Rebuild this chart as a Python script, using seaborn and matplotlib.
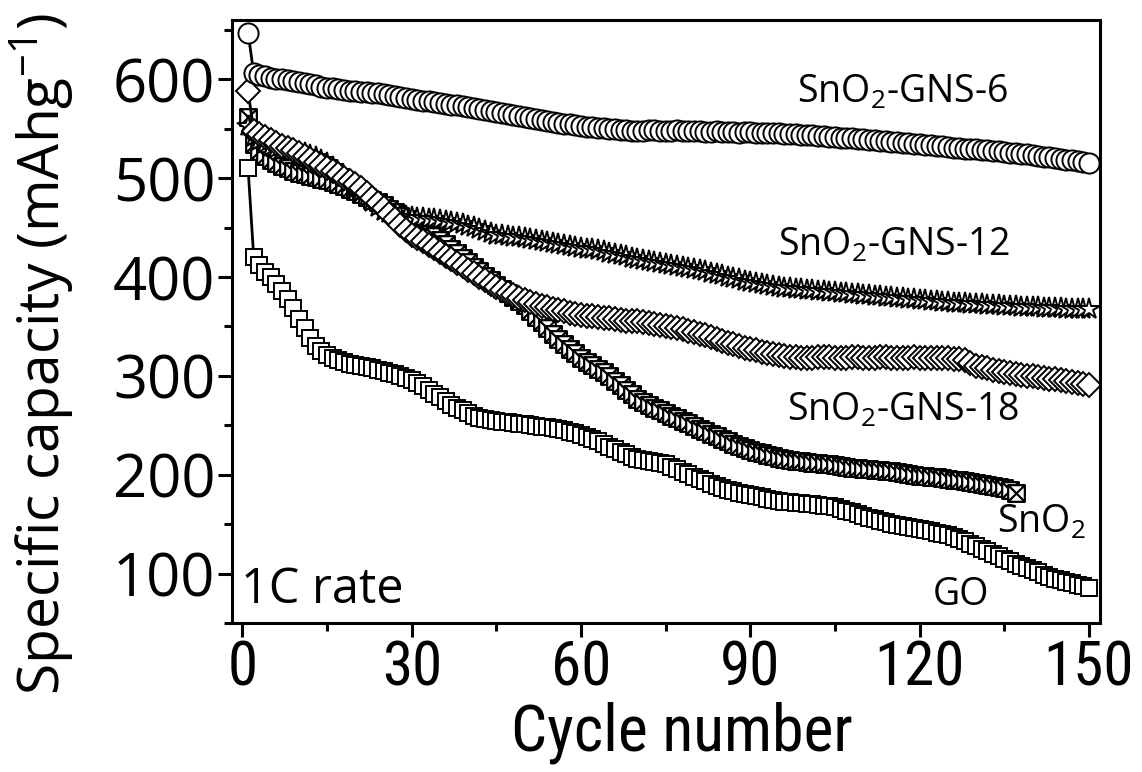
import numpy as np
import matplotlib
matplotlib.use("Agg")
import matplotlib.pyplot as plt
from matplotlib.path import Path
from matplotlib.ticker import MultipleLocator
import seaborn as sns

# ---------------- data ----------------
series_names = ["GO", "SnO2", "SnO2-GNS-12", "SnO2-GNS-18", "SnO2-GNS-6"]

gns6 = [647, 606, 604, 603, 601, 600, 600, 599, 598, 597,
        596, 595, 594, 592, 591, 591, 590, 589, 588, 588,
        587, 587, 586, 586, 585, 584, 583, 582, 581, 580,
        579, 578, 578, 577, 576, 575, 574, 574, 573, 572,
        571, 570, 569, 568, 567, 566, 565, 564, 563, 562,
        561, 560, 559, 558, 557, 556, 555, 555, 554, 553,
        552, 552, 551, 551, 550, 550, 549, 549, 548, 548,
        548, 549, 549, 548, 548, 548, 549, 548, 548, 548,
        548, 547, 547, 548, 547, 547, 547, 546, 547, 547,
        546, 546, 546, 546, 546, 545, 545, 545, 544, 544,
        544, 543, 543, 542, 542, 541, 541, 541, 540, 540,
        539, 539, 538, 538, 537, 537, 536, 536, 535, 535,
        534, 534, 533, 533, 532, 531, 531, 530, 530, 529,
        528, 528, 527, 527, 526, 525, 525, 524, 524, 523,
        522, 521, 521, 520, 519, 518, 518, 517, 516, 515]

gns12 = [553, 542, 538, 535, 532, 530, 529, 528, 527, 526,
         525, 523, 521, 518, 515, 511, 506, 501, 496, 491,
         486, 481, 476, 471, 467, 465, 464, 463, 462, 461,
         460, 460, 459, 459, 458, 457, 456, 455, 454, 452,
         451, 449, 447, 445, 443, 442, 441, 440, 440, 439,
         438, 437, 436, 435, 434, 433, 432, 431, 430, 429,
         428, 428, 427, 426, 424, 423, 422, 421, 419, 418,
         417, 416, 415, 414, 413, 412, 411, 410, 409, 408,
         407, 406, 404, 403, 402, 400, 399, 398, 396, 395,
         394, 393, 392, 391, 390, 389, 389, 388, 388, 387,
         387, 386, 386, 385, 385, 384, 384, 383, 383, 382,
         382, 381, 381, 380, 380, 379, 379, 378, 378, 377,
         377, 376, 376, 375, 375, 374, 374, 374, 373, 373,
         373, 372, 372, 372, 371, 371, 371, 370, 370, 370,
         370, 369, 369, 369, 369, 368, 368, 368, 368, 368]

gns18 = [588, 548, 545, 542, 539, 536, 533, 531, 528, 525,
         522, 519, 516, 513, 510, 507, 504, 500, 497, 494,
         490, 485, 480, 475, 470, 464, 459, 453, 448, 443,
         439, 436, 432, 429, 425, 421, 418, 414, 411, 407,
         404, 400, 397, 393, 390, 387, 384, 382, 379, 377,
         375, 373, 371, 370, 368, 367, 366, 364, 363, 362,
         361, 361, 360, 359, 359, 358, 357, 356, 356, 355,
         354, 353, 352, 351, 350, 349, 348, 347, 345, 344,
         342, 341, 339, 337, 335, 333, 332, 330, 328, 327,
         326, 324, 323, 322, 321, 320, 319, 319, 318, 318,
         318, 319, 319, 319, 318, 318, 318, 319, 319, 318,
         318, 318, 319, 319, 318, 318, 318, 318, 319, 318,
         318, 318, 318, 318, 318, 317, 317, 316, 313, 310,
         309, 308, 306, 305, 304, 303, 302, 301, 300, 300,
         299, 298, 297, 297, 296, 295, 294, 293, 292, 291]

sno2 = [562, 535, 527, 522, 518, 515, 512, 510, 507, 505,
        504, 502, 501, 499, 498, 496, 494, 492, 489, 487,
        484, 481, 478, 476, 473, 469, 466, 462, 459, 455,
        452, 448, 444, 441, 437, 433, 428, 424, 419, 415,
        410, 406, 401, 397, 392, 388, 384, 380, 376, 372,
        366, 360, 354, 348, 342, 337, 332, 327, 323, 318,
        314, 311, 307, 304, 300, 295, 291, 286, 282, 277,
        274, 271, 268, 265, 262, 259, 257, 254, 252, 249,
        246, 244, 241, 239, 236, 234, 231, 229, 227, 225,
        223, 222, 220, 219, 217, 216, 215, 214, 214, 213,
        212, 212, 211, 211, 210, 209, 208, 207, 207, 206,
        206, 205, 205, 204, 204, 203, 202, 201, 200, 199,
        199, 198, 198, 197, 196, 195, 195, 194, 193, 192,
        191, 190, 189, 188, 187, 185, 182]

go = [510, 420, 412, 405, 400, 393, 386, 378, 369, 358,
      348, 338, 330, 325, 321, 318, 316, 314, 312, 311,
      310, 309, 308, 306, 305, 303, 302, 300, 298, 296,
      293, 290, 286, 282, 279, 275, 271, 268, 265, 262,
      259, 257, 256, 255, 254, 253, 253, 252, 251, 251,
      250, 249, 248, 248, 247, 246, 245, 243, 242, 240,
      238, 236, 234, 231, 228, 226, 223, 221, 218, 216,
      215, 214, 213, 212, 211, 208, 206, 203, 201, 198,
      196, 194, 191, 189, 187, 185, 184, 182, 180, 179,
      178, 177, 175, 174, 173, 172, 172, 171, 171, 170,
      170, 169, 168, 168, 167, 165, 163, 162, 160, 158,
      156, 155, 153, 152, 150, 149, 148, 147, 146, 145,
      144, 143, 141, 140, 139, 137, 135, 133, 130, 128,
      125, 123, 120, 118, 115, 113, 110, 108, 106, 104,
      102, 99, 97, 95, 93, 91, 90, 88, 87, 85]

x_ticks = [0, 30, 60, 90, 120, 150]
y_ticks = [100, 200, 300, 400, 500, 600]

# ---------------- style ----------------
sns.set_theme(style="ticks")
plt.rcParams["font.family"] = ["Open Sans", "DejaVu Sans"]
plt.rcParams["mathtext.fontset"] = "custom"
plt.rcParams["mathtext.rm"] = "Open Sans"
plt.rcParams["mathtext.it"] = "Open Sans"
plt.rcParams["mathtext.bf"] = "Open Sans"
plt.rcParams["text.color"] = "black"
plt.rcParams["axes.labelcolor"] = "black"
plt.rcParams["xtick.color"] = "black"
plt.rcParams["ytick.color"] = "black"

narrow = ["Liberation Sans Narrow", "Roboto Condensed", "Open Sans"]

W, H = 1142, 772
fig = plt.figure(figsize=(W / 100, H / 100), dpi=100)
fig.patch.set_facecolor("white")
ax = fig.add_axes([232 / W, 1 - 623 / H, 868 / W, 603 / H])
ax.set_facecolor("white")

# crossed-square marker for bare SnO2
xsq = Path([(-1, -1), (1, -1), (1, 1), (-1, 1), (-1, -1),
            (-1, -1), (1, 1), (-1, 1), (1, -1)],
           [Path.MOVETO, Path.LINETO, Path.LINETO, Path.LINETO, Path.CLOSEPOLY,
            Path.MOVETO, Path.LINETO, Path.MOVETO, Path.LINETO])

common = dict(color="black", linewidth=2.0, markerfacecolor="white",
              markeredgecolor="black", ax=ax,
              legend=False, estimator=None, sort=False)

sns.lineplot(x=np.arange(1, len(go) + 1), y=go, marker="s", markersize=12,
             markeredgewidth=1.4, **common)
sns.lineplot(x=np.arange(1, len(sno2) + 1), y=sno2, marker=xsq, markersize=12,
             markeredgewidth=1.6, **common)
sns.lineplot(x=np.arange(1, len(gns12) + 1), y=gns12, marker="*", markersize=16,
             markeredgewidth=1.4, **common)
sns.lineplot(x=np.arange(1, len(gns18) + 1), y=gns18, marker="D", markersize=12,
             markeredgewidth=1.4, **common)
sns.lineplot(x=np.arange(1, len(gns6) + 1), y=gns6, marker="o", markersize=14.5,
             markeredgewidth=1.4, **common)

ax.set_xlim(-1.85, 151.95)
ax.set_ylim(50, 660)
ax.set_xticks(x_ticks, labels=[str(v) for v in x_ticks], fontfamily=narrow)
ax.set_yticks(y_ticks, labels=[str(v) for v in y_ticks])
ax.xaxis.set_minor_locator(MultipleLocator(15))
ax.yaxis.set_minor_locator(MultipleLocator(50))

for s in ax.spines.values():
    s.set_visible(True)
    s.set_linewidth(2.2)
    s.set_color("black")

ax.tick_params(axis="both", which="major", direction="out", length=10, width=2.2,
               color="black", labelcolor="black", top=False, right=False)
ax.tick_params(axis="both", which="minor", direction="out", length=6, width=2.2,
               color="black", top=False, right=False)
ax.tick_params(axis="y", which="major", labelsize=43, pad=2)
ax.tick_params(axis="x", which="major", labelsize=44, pad=2)
ax.set_xlabel("")
ax.set_ylabel("")

# axis titles
fig.text(682 / W, 1 - 733 / H, "Cycle number", ha="center", va="center",
         fontsize=46, family=narrow, color="black")
fig.text(42 / W, 1 - 354 / H, r"Specific capacity (mAhg$^{-1}$)", ha="center",
         va="center", rotation=90, fontsize=41, color="black")

# curve labels
lab_kw = dict(ha="left", va="baseline", fontsize=27, color="black")
ax.text(98.3, 576, r"SnO$_2$-GNS-6", **lab_kw)
ax.text(94.9, 422, r"SnO$_2$-GNS-12", **lab_kw)
ax.text(96.5, 255, r"SnO$_2$-GNS-18", **lab_kw)
ax.text(133.7, 141.5, r"SnO$_2$", **lab_kw)
ax.text(122.4, 68, "GO", **lab_kw)
ax.text(-0.2, 70, "1C rate", ha="left", va="baseline", fontsize=35, color="black")

fig.savefig("out.png", dpi=100, facecolor="white")
